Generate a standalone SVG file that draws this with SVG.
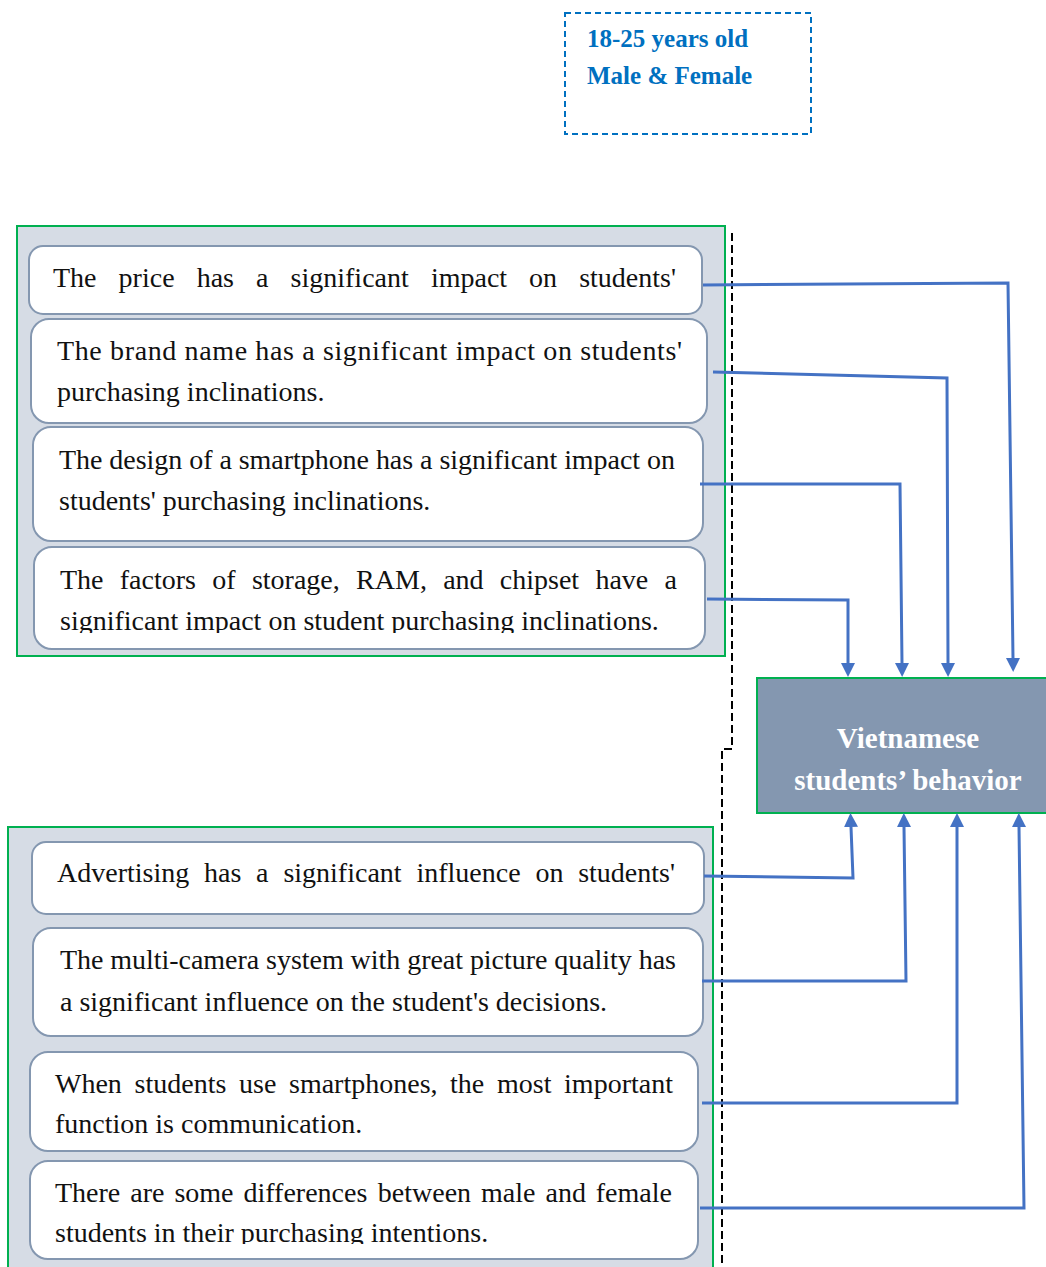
<svg xmlns="http://www.w3.org/2000/svg" width="1046" height="1267" viewBox="0 0 1046 1267">
<style>
  .container { fill: #D6DCE5; stroke: #00B050; stroke-width: 2; }
  .stmt { fill: #FFFFFF; stroke: #8497B0; stroke-width: 2; }
  .t { font-family: "Liberation Serif", "Times New Roman", serif; font-size: 28px; fill: #111111; }
  .conn { fill: none; stroke: #4472C4; stroke-width: 3; stroke-linejoin: miter; }
  .demo { font-family: "Liberation Serif", "Times New Roman", serif; font-size: 25px; font-weight: bold; fill: #0070C0; }
  .outT { font-family: "Liberation Serif", "Times New Roman", serif; font-size: 29px; font-weight: bold; fill: #FFFFFF; }
</style>
<defs>
  <marker id="arrow" markerUnits="userSpaceOnUse" markerWidth="16" markerHeight="16" refX="0" refY="7" orient="auto">
    <path d="M0,0 L14,7 L0,14 z" fill="#4472C4"/>
  </marker>
  <clipPath id="clip4"><rect x="30" y="540" width="680" height="93"/></clipPath>
  <clipPath id="clip8"><rect x="25" y="1155" width="680" height="89"/></clipPath>
</defs>

<!-- Demographic box -->
<g id="demographics">
  <rect x="565" y="13" width="246" height="121" fill="#FFFFFF" stroke="#0070C0" stroke-width="2" stroke-dasharray="6 4"/>
  <text class="demo" x="587" y="47">18-25 years old</text>
  <text class="demo" x="587" y="84">Male &amp; Female</text>
</g>

<!-- Top container -->
<g id="group-top">
  <rect class="container" x="17" y="226" width="708" height="430"/>
</g>

<g id="s1">
  <rect class="stmt" x="29" y="246" width="673" height="68" rx="14"/>
  <text class="t" y="287"><tspan x="53">The</tspan><tspan x="118.6">price</tspan><tspan x="196.7">has</tspan><tspan x="256.1">a</tspan><tspan x="290.6">significant</tspan><tspan x="430.9">impact</tspan><tspan x="529.1">on</tspan><tspan x="579.2">students'</tspan></text>
</g>

<g id="s2">
  <rect class="stmt" x="31" y="319" width="676" height="104" rx="18"/>
  <text class="t" x="57" y="360" textLength="625" lengthAdjust="spacing">The brand name has a significant impact on students'</text>
  <text class="t" x="57" y="401">purchasing inclinations.</text>
</g>

<g id="s3">
  <rect class="stmt" x="33" y="427" width="670" height="114" rx="18"/>
  <text class="t" x="59" y="469" textLength="616" lengthAdjust="spacing">The design of a smartphone has a significant impact on</text>
  <text class="t" x="59" y="510">students' purchasing inclinations.</text>
</g>

<g id="s4">
  <rect class="stmt" x="34" y="547" width="671" height="102" rx="18"/>
  <text class="t" y="589"><tspan x="60">The</tspan><tspan x="119.8">factors</tspan><tspan x="212.3">of</tspan><tspan x="251.9">storage,</tspan><tspan x="356.1">RAM,</tspan><tspan x="443.2">and</tspan><tspan x="499.8">chipset</tspan><tspan x="595.4">have</tspan><tspan x="664.6">a</tspan></text>
  <text class="t" x="60" y="630" clip-path="url(#clip4)">significant impact on student purchasing inclinations.</text>
</g>

<!-- Bottom container -->
<g id="group-bottom">
  <rect class="container" x="8" y="827" width="705" height="460"/>
</g>

<g id="s5">
  <rect class="stmt" x="32" y="842" width="672" height="72" rx="14"/>
  <text class="t" y="882"><tspan x="57">Advertising</tspan><tspan x="204">has</tspan><tspan x="256.1">a</tspan><tspan x="283.4">significant</tspan><tspan x="416.4">influence</tspan><tspan x="535.4">on</tspan><tspan x="578.2">students'</tspan></text>
</g>

<g id="s6">
  <rect class="stmt" x="33" y="928" width="670" height="108" rx="18"/>
  <text class="t" x="60" y="969" textLength="616" lengthAdjust="spacing">The multi-camera system with great picture quality has</text>
  <text class="t" x="60" y="1011">a significant influence on the student's decisions.</text>
</g>

<g id="s7">
  <rect class="stmt" x="30" y="1052" width="668" height="99" rx="18"/>
  <text class="t" y="1093"><tspan x="55">When</tspan><tspan x="134.6">students</tspan><tspan x="239">use</tspan><tspan x="289">smartphones,</tspan><tspan x="450.1">the</tspan><tspan x="497">most</tspan><tspan x="564.1">important</tspan></text>
  <text class="t" x="55" y="1133">function is communication.</text>
</g>

<g id="s8">
  <rect class="stmt" x="30" y="1161" width="668" height="98" rx="18"/>
  <text class="t" y="1202"><tspan x="55">There</tspan><tspan x="130.3">are</tspan><tspan x="174.4">some</tspan><tspan x="243.5">differences</tspan><tspan x="377.8">between</tspan><tspan x="481.1">male</tspan><tspan x="545.5">and</tspan><tspan x="595.8">female</tspan></text>
  <text class="t" x="55" y="1242" clip-path="url(#clip8)">students in their purchasing intentions.</text>
</g>

<!-- Outcome node -->
<g id="behavior">
  <rect x="757" y="678" width="300" height="135" fill="#8497B0" stroke="#00B050" stroke-width="2"/>
  <text class="outT" x="908" y="748" text-anchor="middle">Vietnamese</text>
  <text class="outT" x="908" y="790" text-anchor="middle">students’ behavior</text>
</g>

<!-- Divider -->
<g id="divider">
  <path d="M732,233 L732,749 L722,749 L722,1267" fill="none" stroke="#000000" stroke-width="2" stroke-dasharray="8 4"/>
</g>

<!-- Connectors -->
<g id="connectors">
  <path class="conn" d="M703,285 L1008,283 L1013,658" marker-end="url(#arrow)"/>
  <path class="conn" d="M713,372 L947,378 L948,663" marker-end="url(#arrow)"/>
  <path class="conn" d="M700,484 L900,484 L902,663" marker-end="url(#arrow)"/>
  <path class="conn" d="M707,599 L848,600 L848,663" marker-end="url(#arrow)"/>
  <path class="conn" d="M704,876 L853,878 L851,827" marker-end="url(#arrow)"/>
  <path class="conn" d="M702,981 L906,981 L904,827" marker-end="url(#arrow)"/>
  <path class="conn" d="M702,1103 L957,1103 L957,827" marker-end="url(#arrow)"/>
  <path class="conn" d="M700,1208 L1024,1208 L1019,827" marker-end="url(#arrow)"/>
</g>
</svg>
